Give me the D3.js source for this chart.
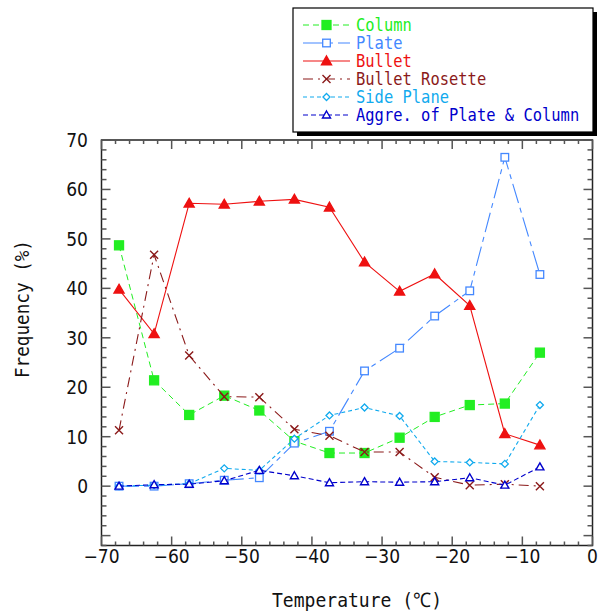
<!DOCTYPE html>
<html>
<head>
<meta charset="utf-8">
<script src="https://cdn.jsdelivr.net/npm/d3@7"></script>
<style>
  body { margin: 0; background: #fff; }
  svg { display: block; }
  .tick-label { font-family: "Liberation Sans Narrow", "DejaVu Sans Condensed", sans-serif; font-size: 19px; fill: #111; }
  .gothic { font-family: "DejaVu Sans Mono", monospace; }
</style>
</head>
<body>
<div class="chart"></div>
<script>
// temperature bins (centre of each 5 degree class)
const temps = [-67.5, -62.5, -57.5, -52.5, -47.5, -42.5, -37.5, -32.5, -27.5, -22.5, -17.5, -12.5, -7.5];

const column   = [48.7, 21.4, 14.4, 18.3, 15.3, 9.1, 6.7, 6.7, 9.8, 14.0, 16.4, 16.7, 27.0];
const plate    = [0.0, 0.0, 0.5, 1.2, 1.7, 8.7, 11.1, 23.3, 27.9, 34.4, 39.5, 66.5, 42.8];
const bullet   = [39.8, 30.8, 57.2, 57.0, 57.6, 58.0, 56.4, 45.3, 39.4, 42.9, 36.5, 10.6, 8.3];
const rosette  = [11.3, 46.8, 26.4, 18.1, 18.0, 11.5, 10.2, 6.9, 6.9, 1.8, 0.2, 0.4, 0.0];
const sidePlane = [0.0, 0.2, 0.5, 3.6, 3.2, 9.6, 14.3, 15.9, 14.2, 5.0, 4.8, 4.5, 16.4];
const aggre    = [0.0, 0.3, 0.4, 1.1, 3.2, 2.1, 0.7, 0.9, 0.8, 0.9, 1.7, 0.2, 3.9];

const xTicks = [-70, -60, -50, -40, -30, -20, -10, 0];
const yTicks = [0, 10, 20, 30, 40, 50, 60, 70];

const series = [
  { name: "Column", values: column, color: "#22ee22", dash: "6,4", marker: "square", fill: true, width: 1 },
  { name: "Plate", values: plate, color: "#4488ff", dash: "20,5,5,5", marker: "square", fill: false, width: 1.1 },
  { name: "Bullet", values: bullet, color: "#ee1111", dash: null, marker: "triangle", fill: true, width: 1.1 },
  { name: "Bullet Rosette", values: rosette, color: "#8b1a1a", dash: "10,5,2,5", marker: "cross", fill: false, width: 1.1 },
  { name: "Side Plane", values: sidePlane, color: "#11aaee", dash: "4,3", marker: "diamond", fill: false, width: 1.1 },
  { name: "Aggre. of Plate & Column", values: aggre, color: "#0000cc", dash: "5,3", marker: "triangle", fill: false, width: 1.1 }
];

const W = 598, H = 614;
const plot = { left: 101.5, right: 592.5, top: 140, bottom: 545.5 };

const x = d3.scaleLinear().domain([-70, 0]).range([plot.left, plot.right]);
const y = d3.scaleLinear().domain([-12, 70]).range([plot.bottom, plot.top]);

const svg = d3.select("div.chart").append("svg")
  .attr("width", W)
  .attr("height", H);

// frame
svg.append("rect")
  .attr("x", plot.left).attr("y", plot.top)
  .attr("width", plot.right - plot.left).attr("height", plot.bottom - plot.top)
  .attr("fill", "none").attr("stroke", "#222").attr("stroke-width", 1.5);

// inward ticks on all four sides
const tickColor = "#555";
const xMinor = d3.range(-70, 0.1, 2);
const yMinor = d3.range(-12, 70.1, 2);
xMinor.forEach(v => {
  const len = v % 10 === 0 ? 9 : 4;
  svg.append("line").attr("x1", x(v)).attr("x2", x(v)).attr("y1", plot.bottom).attr("y2", plot.bottom - len)
    .attr("stroke", tickColor).attr("stroke-width", 1.5);
  svg.append("line").attr("x1", x(v)).attr("x2", x(v)).attr("y1", plot.top).attr("y2", plot.top + len)
    .attr("stroke", tickColor).attr("stroke-width", 1.5);
});
yMinor.forEach(v => {
  const len = v % 10 === 0 ? 9 : 5;
  svg.append("line").attr("x1", plot.left).attr("x2", plot.left + len).attr("y1", y(v)).attr("y2", y(v))
    .attr("stroke", tickColor).attr("stroke-width", 1.5);
  svg.append("line").attr("x1", plot.right).attr("x2", plot.right - len).attr("y1", y(v)).attr("y2", y(v))
    .attr("stroke", tickColor).attr("stroke-width", 1.5);
});

// tick labels
svg.selectAll("text.xlab").data(xTicks).enter().append("text")
  .attr("class", "tick-label xlab")
  .attr("x", d => x(d)).attr("y", 563)
  .attr("text-anchor", "middle")
  .text(d => d < 0 ? "\u2212" + Math.abs(d) : d);

svg.selectAll("text.ylab").data(yTicks).enter().append("text")
  .attr("class", "tick-label ylab")
  .attr("x", 88).attr("y", d => y(d) + 7)
  .attr("text-anchor", "end")
  .text(d => d);

// axis titles
svg.append("text").attr("class", "gothic")
  .attr("x", 357).attr("y", 607)
  .attr("text-anchor", "middle")
  .attr("font-size", 20).attr("fill", "#111")
  .attr("textLength", 170).attr("lengthAdjust", "spacingAndGlyphs")
  .text("Temperature (\u2103)");

svg.append("text").attr("class", "gothic")
  .attr("transform", "translate(29,309) rotate(-90)")
  .attr("text-anchor", "middle")
  .attr("font-size", 20).attr("fill", "#111")
  .attr("textLength", 138).attr("lengthAdjust", "spacingAndGlyphs")
  .text("Frequency (%)");

// marker drawing
function drawMarker(g, s, cx, cy) {
  const c = s.color;
  const fill = s.fill ? c : "#fff";
  if (s.marker === "square") {
    const r = s.fill ? 4.5 : 3.8;
    g.append("rect").attr("x", cx - r).attr("y", cy - r).attr("width", 2 * r).attr("height", 2 * r)
      .attr("fill", fill).attr("stroke", c).attr("stroke-width", 1.3);
  } else if (s.marker === "triangle") {
    const r = s.fill ? 5 : 4;
    g.append("path").attr("d", `M${cx},${cy - r}L${cx + r},${cy + r * 0.75}L${cx - r},${cy + r * 0.75}Z`)
      .attr("fill", fill).attr("stroke", c).attr("stroke-width", 1.4);
  } else if (s.marker === "cross") {
    const r = 4;
    g.append("path").attr("d", `M${cx - r},${cy - r}L${cx + r},${cy + r}M${cx - r},${cy + r}L${cx + r},${cy - r}`)
      .attr("stroke", c).attr("stroke-width", 1.4).attr("fill", "none");
  } else if (s.marker === "diamond") {
    const r = 3.5;
    g.append("path").attr("d", `M${cx},${cy - r}L${cx + r},${cy}L${cx},${cy + r}L${cx - r},${cy}Z`)
      .attr("fill", fill).attr("stroke", c).attr("stroke-width", 1.3);
  }
}

const line = d3.line().x(d => x(d[0])).y(d => y(d[1]));

series.forEach(s => {
  const pts = temps.map((t, i) => [t, s.values[i]]);
  const g = svg.append("g");
  g.append("path").datum(pts)
    .attr("d", line)
    .attr("fill", "none")
    .attr("stroke", s.color)
    .attr("stroke-width", s.width)
    .attr("stroke-dasharray", s.dash);
  pts.forEach(p => drawMarker(g, s, x(p[0]), y(p[1])));
});

// legend with drop shadow
const lg = { x: 293, y: 8, w: 300, h: 124 };
svg.append("rect").attr("x", lg.x + 4).attr("y", lg.y + 4).attr("width", lg.w).attr("height", lg.h).attr("fill", "#000");
svg.append("rect").attr("x", lg.x).attr("y", lg.y).attr("width", lg.w).attr("height", lg.h)
  .attr("fill", "#fff").attr("stroke", "#000").attr("stroke-width", 1.2);

series.forEach((s, i) => {
  const ry = 25 + i * 18;
  const g = svg.append("g");
  g.append("line").attr("x1", 303).attr("x2", 350).attr("y1", ry).attr("y2", ry)
    .attr("stroke", s.color).attr("stroke-width", s.width).attr("stroke-dasharray", s.dash);
  drawMarker(g, s, 326.5, ry);
  g.append("text").attr("class", "gothic")
    .attr("x", 356).attr("y", ry + 6)
    .attr("font-size", 17).attr("fill", s.color)
    .attr("textLength", s.name.length * 9.3).attr("lengthAdjust", "spacingAndGlyphs")
    .text(s.name);
});
</script>
</body>
</html>
